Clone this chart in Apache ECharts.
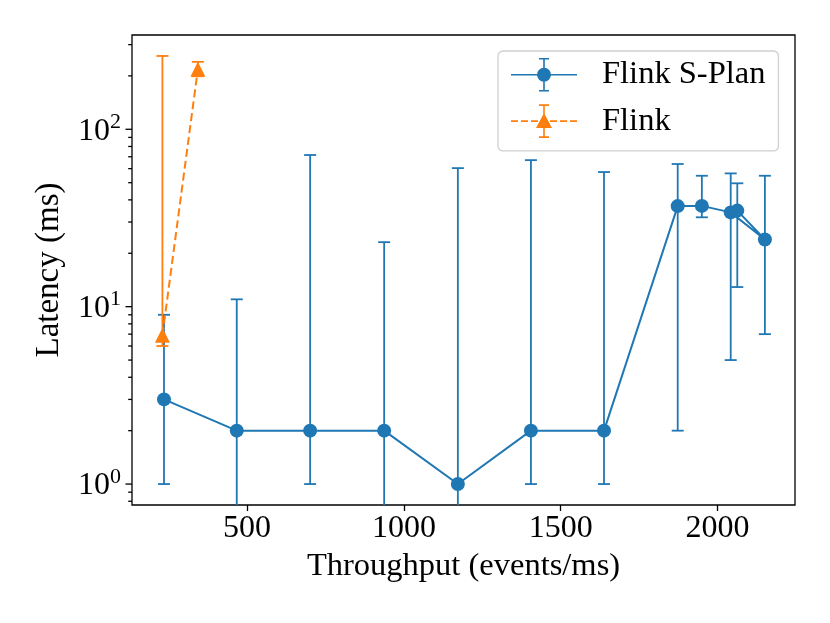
<!DOCTYPE html>
<html><head><meta charset="utf-8">
<script src="https://cdn.jsdelivr.net/npm/echarts@6/dist/echarts.min.js"></script>
<style>html,body{margin:0;padding:0;background:#fff}#c{width:830px;height:623px}</style>
</head><body><div id="c"></div>
<script>
// ---- data ----
const splanX    = [235, 467, 701, 937, 1172, 1405, 1638, 1873, 1950, 2042, 2151, 2063];
const splanY    = [3, 2, 2, 2, 1, 2, 2, 36.9, 37.0, 34.0, 23.9, 34.8];
const splanLow  = [1, 0, 1, 0, 0, 1, 1, 2.0, 31.9, 5.0, 7.0, 12.9];
const splanHigh = [9, 11, 71.6, 23.1, 60.4, 67, 57.4, 63.7, 54.7, 56.4, 54.7, 49.6];

const flinkX    = [230, 343];
const flinkY    = [6.9, 218];
const flinkLow  = [6.0, 199];
const flinkHigh = [259, 240];

const xTicks = [500, 1000, 1500, 2000];
const yMajorTicks = [1, 10, 100];
const yMinorTicks = [0.8, 0.9, 2, 3, 4, 5, 6, 7, 8, 9, 20, 30, 40, 50, 60, 70, 80, 90, 200, 300];

const X_MIN = 133, X_MAX = 2247, Y_MIN = 0.762, Y_MAX = 340;
const BLUE = '#1f77b4', ORANGE = '#ff7f0e';
const FONT = "'Liberation Serif', 'DejaVu Serif', serif";

const pairs = (xs, ys) => xs.map((x, i) => [x, ys[i]]);
const errData = (xs, lo, hi) => xs.map((x, i) => [x, lo[i], hi[i]]);

function errRender(color) {
  return function (params, api) {
    const x = api.value(0), lo = api.value(1), hi = api.value(2);
    const top = api.coord([x, hi]);
    const cap = 6;
    const st = { stroke: color, lineWidth: 1.8 };
    const children = [];
    let bot;
    if (lo > 0) {
      bot = api.coord([x, lo]);
      children.push({ type: 'line', shape: { x1: bot[0] - cap, y1: bot[1], x2: bot[0] + cap, y2: bot[1] }, style: st });
    } else {
      bot = api.coord([x, Y_MIN * 0.5]);
    }
    children.push({ type: 'line', shape: { x1: top[0], y1: top[1], x2: bot[0], y2: bot[1] }, style: st });
    children.push({ type: 'line', shape: { x1: top[0] - cap, y1: top[1], x2: top[0] + cap, y2: top[1] }, style: st });
    return { type: 'group', children };
  };
}

function tickRender(len) {
  return function (params, api) {
    const p = api.coord([api.value(0), api.value(1)]);
    return { type: 'line', shape: { x1: p[0] - len, y1: p[1], x2: p[0], y2: p[1] }, style: { stroke: '#000', lineWidth: 1.3 } };
  };
}

const bar = 'M32.2,1 L33.8,1 L33.8,33 L32.2,33 Z M28,0.2 L38,0.2 L38,1.8 L28,1.8 Z M28,32.2 L38,32.2 L38,33.8 L28,33.8 Z ';
const iconSplan = 'path://M0,16.2 L66,16.2 L66,17.8 L0,17.8 Z ' + bar + 'M40,17 A7,7 0 1,1 26,17 A7,7 0 1,1 40,17 Z';
const iconFlink = 'path://M0,16.2 L7,16.2 L7,17.8 L0,17.8 Z M10,16.2 L17,16.2 L17,17.8 L10,17.8 Z M20,16.2 L27,16.2 L27,17.8 L20,17.8 Z M39,16.2 L46,16.2 L46,17.8 L39,17.8 Z M49,16.2 L56,16.2 L56,17.8 L49,17.8 Z M59,16.2 L66,16.2 L66,17.8 L59,17.8 Z ' + bar + 'M33,9 L41,24 L25,24 Z';

const chart = echarts.init(document.getElementById('c'), null, { renderer: 'canvas' });
chart.setOption({
  animation: false,
  backgroundColor: '#fff',
  grid: { left: 132, top: 35, width: 663, height: 470, show: true, borderColor: '#000', borderWidth: 1.3, backgroundColor: 'transparent' },
  legend: {
    orient: 'vertical', left: 498, top: 51,
    padding: [7, 13, 13, 13], itemGap: 12.7, itemWidth: 66, itemHeight: 34,
    backgroundColor: '#fff', borderColor: '#d0d0d0', borderWidth: 1.3, borderRadius: 5,
    itemStyle: { borderWidth: 0 },
    textStyle: { fontFamily: FONT, fontSize: 32.5, color: '#000', padding: [0, 0, 0, 20] },
    data: [{ name: 'Flink S-Plan', icon: iconSplan }, { name: 'Flink', icon: iconFlink }]
  },
  xAxis: {
    type: 'value', min: X_MIN, max: X_MAX,
    name: 'Throughput (events/ms)', nameLocation: 'middle', nameGap: 41,
    nameTextStyle: { fontFamily: FONT, fontSize: 32.5, color: '#000' },
    axisLine: { show: false },
    splitLine: { show: false },
    axisTick: { show: true, inside: false, length: 6, customValues: xTicks, lineStyle: { color: '#000', width: 1.3 } },
    axisLabel: { customValues: xTicks, margin: 8, fontFamily: FONT, fontSize: 32, color: '#000',
      formatter: function (v) { return String(v); } }
  },
  yAxis: {
    type: 'log', logBase: 10, min: Y_MIN, max: Y_MAX,
    name: 'Latency (ms)', nameLocation: 'middle', nameGap: 66, nameRotate: 90,
    nameTextStyle: { fontFamily: FONT, fontSize: 33, color: '#000' },
    axisLine: { show: false },
    splitLine: { show: false },
    axisTick: { show: false },
    minorTick: { show: false },
    axisLabel: {
      margin: 11, showMinLabel: true, showMaxLabel: true,
      formatter: function (v) {
        const e = Math.log10(v);
        if (Math.abs(e - Math.round(e)) > 1e-6) return '';
        return '{a|10}{b|' + Math.round(e) + '}';
      },
      rich: {
        a: { fontFamily: FONT, fontSize: 32, color: '#000', lineHeight: 36, verticalAlign: 'bottom' },
        b: { fontFamily: FONT, fontSize: 22, color: '#000', lineHeight: 22, verticalAlign: 'top' }
      }
    }
  },
  series: [
    { type: 'custom', name: 'yMajor', silent: true, clip: false, z: 1, renderItem: tickRender(6.5),
      encode: { x: 0, y: 1 }, data: yMajorTicks.map(v => [X_MIN, v]) },
    { type: 'custom', name: 'yMinor', silent: true, clip: false, z: 1, renderItem: tickRender(3.8),
      encode: { x: 0, y: 1 }, data: yMinorTicks.map(v => [X_MIN, v]) },
    { type: 'custom', name: 'splanErr', silent: true, clip: true, z: 2, renderItem: errRender(BLUE),
      encode: { x: 0, y: 2 }, data: errData(splanX, splanLow, splanHigh) },
    { type: 'line', name: 'Flink S-Plan', z: 3, color: BLUE, symbol: 'circle', symbolSize: 14,
      lineStyle: { color: BLUE, width: 2 }, itemStyle: { color: BLUE }, data: pairs(splanX, splanY) },
    { type: 'custom', name: 'flinkErr', silent: true, clip: true, z: 4, renderItem: errRender(ORANGE),
      encode: { x: 0, y: 2 }, data: errData(flinkX, flinkLow, flinkHigh) },
    { type: 'line', name: 'Flink', z: 5, color: ORANGE, symbol: 'triangle', symbolSize: 15,
      lineStyle: { color: ORANGE, width: 2, type: [8, 4] }, itemStyle: { color: ORANGE }, data: pairs(flinkX, flinkY) }
  ]
});
</script>
</body></html>
